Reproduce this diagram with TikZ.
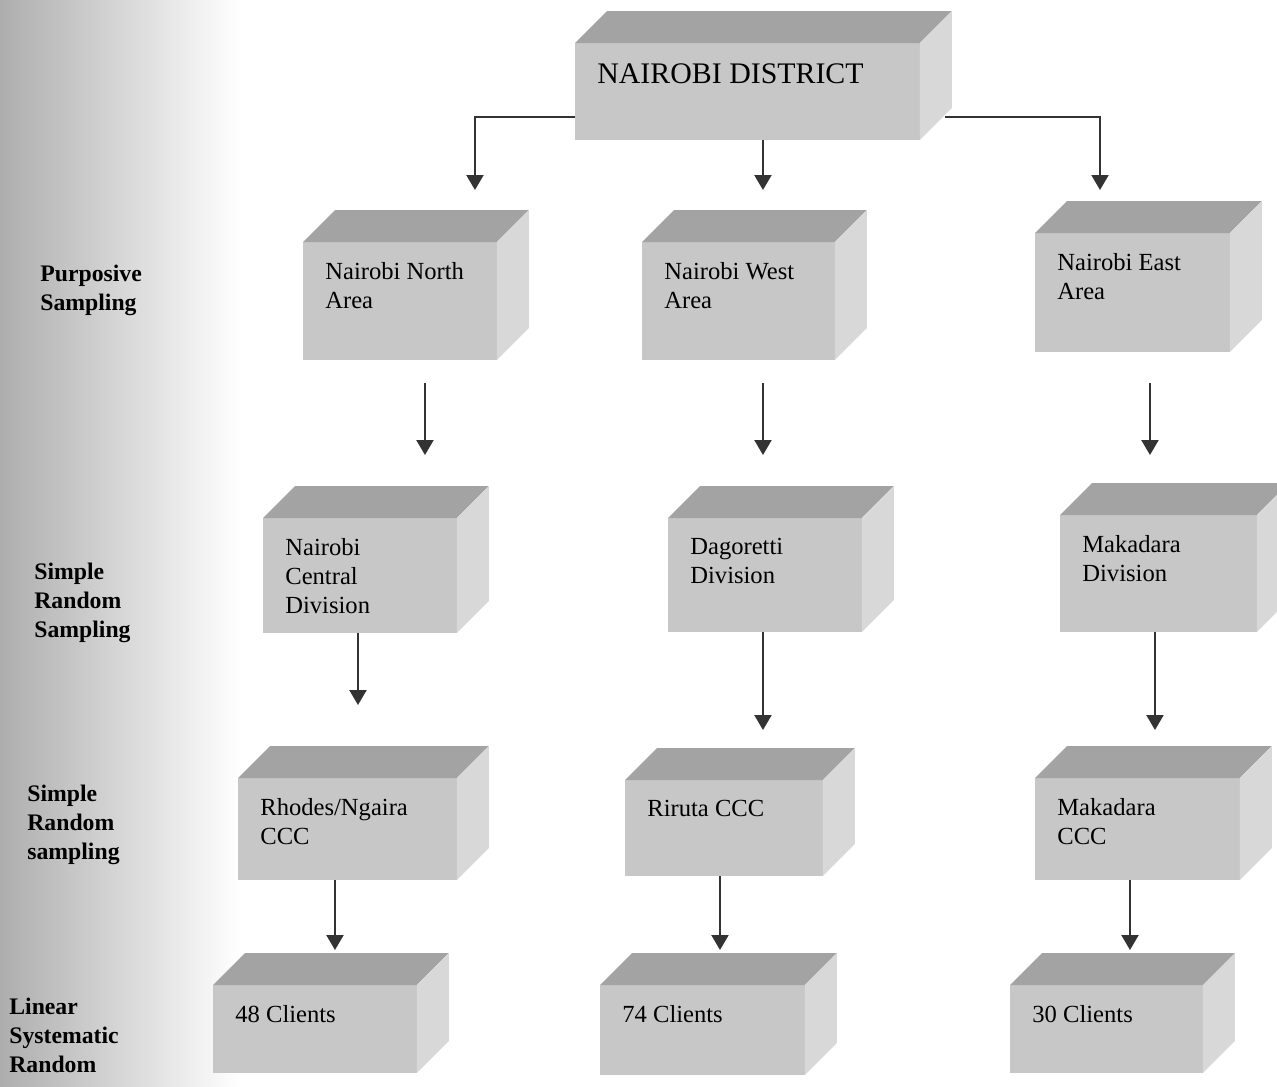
\documentclass[tikz,border=0pt]{standalone}
\usepackage{fontspec}
\setmainfont{Liberation Serif}
\usepackage{tikz}
\usetikzlibrary{positioning}
\usetikzlibrary{arrows.meta}

\definecolor{frontgray}{RGB}{199,199,199}
\definecolor{topgray}{RGB}{163,163,163}
\definecolor{sidegray}{RGB}{216,216,216}

\tikzset{
	crate/.style={fill=frontgray,inner sep=0,outer sep=0,anchor=north west},
	cratetext/.style={anchor=north west,inner sep=0,xshift=0.44cm,yshift=-0.4cm,align=left,font={\fontsize{14}{16.5}\selectfont}},
	sidelbl/.style={anchor=north west,inner sep=0,align=left,font={\bfseries\fontsize{13.5}{16.5}\selectfont}},
	flow/.style={draw=black!80,line width=1.2pt,-{Triangle[width=0.34cm,length=0.3cm]}}
}

\begin{document}
\begin{tikzpicture}[x=0.02cm,y=-0.02cm]
	\useasboundingbox (0,0) rectangle (1277,1086);
	\shade[left color=black!32,middle color=black!7,right color=white] (0,0) rectangle (240,1086);

	\node[crate,minimum width=6.9cm,minimum height=1.94cm,label={[cratetext,font={\fontsize{17}{20}\selectfont}]north west:NAIROBI DISTRICT}] (dist) at (575,43) {};

	\node[crate,minimum width=3.88cm,minimum height=2.36cm,label={[cratetext]north west:Nairobi North\\Area}] (north) at (303,242) {};
	\node[crate,minimum width=3.86cm,minimum height=2.36cm,label={[cratetext]north west:Nairobi West\\Area}] (west) at (642,242) {};
	\node[crate,minimum width=3.9cm,minimum height=2.38cm,label={[cratetext]north west:Nairobi East\\Area}] (east) at (1035,233) {};

	\node[crate,minimum width=3.88cm,minimum height=2.3cm,label={[cratetext]north west:Nairobi\\Central\\Division}] (central) at (263,518) {};
	\node[crate,minimum width=3.88cm,minimum height=2.28cm,label={[cratetext]north west:Dagoretti\\Division}] (dago) at (668,518) {};
	\node[crate,minimum width=3.94cm,minimum height=2.34cm,label={[cratetext]north west:Makadara\\Division}] (makdiv) at (1060,515) {};

	\node[crate,minimum width=4.38cm,minimum height=2.04cm,label={[cratetext]north west:Rhodes/Ngaira\\CCC}] (rhodes) at (238,778) {};
	\node[crate,minimum width=3.96cm,minimum height=1.92cm,label={[cratetext]north west:Riruta CCC}] (riruta) at (625,780) {};
	\node[crate,minimum width=4.1cm,minimum height=2.04cm,label={[cratetext]north west:Makadara\\CCC}] (makccc) at (1035,778) {};

	\node[crate,minimum width=4.08cm,minimum height=1.76cm,label={[cratetext]north west:48 Clients}] (c48) at (213,985) {};
	\node[crate,minimum width=4.1cm,minimum height=1.8cm,label={[cratetext]north west:74 Clients}] (c74) at (600,985) {};
	\node[crate,minimum width=3.86cm,minimum height=1.76cm,label={[cratetext]north west:30 Clients}] (c30) at (1010,985) {};

	\foreach \c in {dist,north,west,east,central,dago,makdiv,rhodes,riruta,makccc,c48,c74,c30} {
		\fill[topgray] (\c.north west) -- ++(32,-32) -- ([shift={(32,-32)}]\c.north east) -- (\c.north east) -- cycle;
		\fill[sidegray] (\c.north east) -- ++(32,-32) -- ([shift={(32,-32)}]\c.south east) -- (\c.south east) -- cycle;
	}

	\node[sidelbl] (lpurp) at (40,265) {Purposive\\Sampling};
	\node[sidelbl] (lsrs1) at (34,563) {Simple\\Random\\Sampling};
	\node[sidelbl] (lsrs2) at (27,785) {Simple\\Random\\sampling};
	\node[sidelbl] (llsr) at (9,998) {Linear\\Systematic\\Random};

	\draw[flow] ([yshift=0.46cm]dist.south west) -| ([xshift=1.5cm,yshift=1.04cm]north.north);
	\draw[flow,shorten >=1.04cm] ([xshift=0.31cm]dist.south) -- ([xshift=0.31cm]dist.south |- west.north);
	\draw[flow] ([xshift=0.5cm,yshift=0.46cm]dist.south east) -| ([xshift=-0.65cm,yshift=0.86cm]east.north);

	\draw[flow,shorten <=0.46cm,shorten >=1.26cm] ([xshift=0.5cm]north.south) -- ([xshift=0.5cm]north.south |- central.north);
	\draw[flow,shorten <=0.46cm,shorten >=1.26cm] ([xshift=0.49cm]west.south) -- ([xshift=0.49cm]west.south |- dago.north);
	\draw[flow,shorten <=0.62cm,shorten >=1.2cm] ([xshift=0.35cm]east.south) -- ([xshift=0.35cm]east.south |- makdiv.north);

	\draw[flow,shorten >=1.46cm] ([xshift=-0.04cm]central.south) -- ([xshift=-0.04cm]central.south |- rhodes.north);
	\draw[flow,shorten >=1.0cm] ([xshift=-0.04cm]dago.south) -- ([xshift=-0.04cm]dago.south |- riruta.north);
	\draw[flow,shorten >=0.96cm] ([xshift=-0.07cm]makdiv.south) -- ([xshift=-0.07cm]makdiv.south |- makccc.north);

	\draw[flow,shorten >=0.7cm] ([xshift=-0.25cm]rhodes.south) -- ([xshift=-0.25cm]rhodes.south |- c48.north);
	\draw[flow,shorten >=0.7cm] ([xshift=-0.08cm]riruta.south) -- ([xshift=-0.08cm]riruta.south |- c74.north);
	\draw[flow,shorten >=0.7cm] ([xshift=-0.15cm]makccc.south) -- ([xshift=-0.15cm]makccc.south |- c30.north);
\end{tikzpicture}
\end{document}
